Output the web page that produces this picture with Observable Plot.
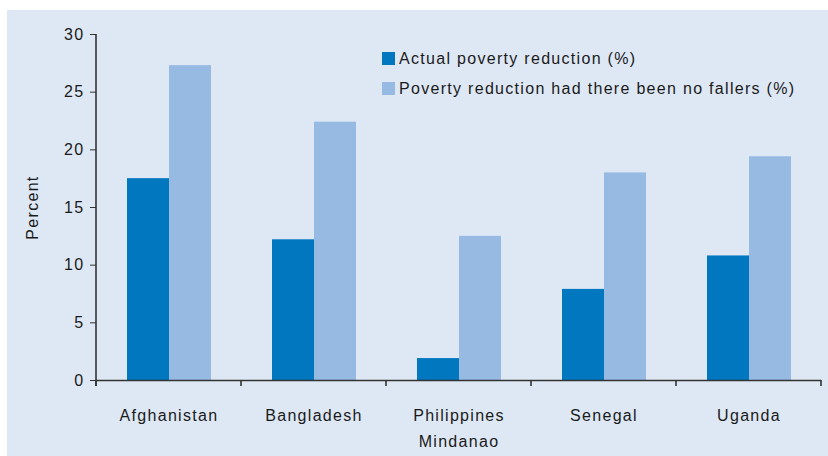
<!DOCTYPE html>
<html>
<head>
<meta charset="utf-8">
<script src="https://cdn.jsdelivr.net/npm/d3@7"></script>
<script src="https://cdn.jsdelivr.net/npm/@observablehq/plot@0.6"></script>
<style>
  html, body { margin: 0; padding: 0; background: #ffffff; }
  #wrap { position: relative; width: 828px; height: 456px; overflow: hidden; background: #ffffff; }
  #panel { position: absolute; left: 7px; top: 10px; width: 821px; height: 446px; background: #dee8f5; }
  #legend { position: absolute; left: 382px; top: 50px; font-family: "Liberation Sans", Arial, sans-serif;
            font-size: 16px; letter-spacing: 1.3px; color: #1a1a1a; }
  #legend .item { display: flex; align-items: center; height: 17px; margin-bottom: 13px; }
  #legend .sw { width: 13px; height: 13px; margin-right: 4px; flex: none; }
</style>
</head>
<body>
<div id="wrap">
  <div id="panel"></div>
  <div id="legend"></div>
</div>
<script>
// Poverty reduction by country, with and without households that fell into poverty
const countries = ["Afghanistan", "Bangladesh", "Philippines\nMindanao", "Senegal", "Uganda"];
const actualReduction = [17.5, 12.2, 1.9, 7.9, 10.8];
const noFallersReduction = [27.3, 22.4, 12.5, 18.0, 19.4];
const seriesNames = ["Actual poverty reduction (%)", "Poverty reduction had there been no fallers (%)"];
const seriesColors = ["#0077bf", "#97bae3"];
const yTicks = [0, 5, 10, 15, 20, 25, 30];

const rows = countries.flatMap((c, i) => [
  {country: c, series: seriesNames[0], value: actualReduction[i]},
  {country: c, series: seriesNames[1], value: noFallersReduction[i]}
]);

const axisColor = "#333333";
const textColor = "#1a1a1a";

const plot = Plot.plot({
  width: 821,
  height: 446,
  marginLeft: 88,
  marginRight: 7,
  marginTop: 24,
  marginBottom: 76,
  style: {
    background: "transparent",
    fontFamily: "'Liberation Sans', Arial, sans-serif",
    fontSize: "16px",
    letterSpacing: "1.3px",
    color: textColor
  },
  fx: {domain: countries, padding: 0, axis: null, label: null},
  x: {domain: seriesNames, paddingInner: 0, paddingOuter: 0.7, axis: null},
  y: {domain: [0, 30], ticks: yTicks, axis: null},
  color: {domain: seriesNames, range: seriesColors},
  marks: [
    Plot.barY(rows, {fx: "country", x: "series", y: "value", fill: "series"}),
    Plot.ruleY([0], {stroke: axisColor, strokeWidth: 1.6}),
    Plot.axisFx({anchor: "bottom", tickSize: 0, tickPadding: 22, label: null, lineHeight: 1.63, fill: textColor}),
    Plot.axisY({ticks: yTicks, tickSize: 6, tickPadding: 6, stroke: axisColor, fill: textColor,
                label: "Percent", labelAnchor: "center", labelArrow: false, labelOffset: 70})
  ]
});

document.getElementById("panel").appendChild(plot);

const svg = d3.select(plot.tagName.toLowerCase() === "svg" ? plot : plot.querySelector("svg"));

// Keep the axis label as plain text without a direction arrow
svg.selectAll("text").each(function() {
  const t = d3.select(this);
  if (this.childElementCount === 0 && /Percent/.test(t.text())) t.text("Percent");
});

// Axis line on the left and the group boundary ticks along the bottom
const fx = plot.scale("fx");
const y = plot.scale("y");
const x0 = fx.apply(countries[0]);
const bw = fx.bandwidth;
const y0 = y.apply(0);
const yTop = y.apply(yTicks[yTicks.length - 1]);
const extra = svg.append("g").attr("stroke", axisColor).attr("stroke-width", 1.6);
extra.append("line").attr("x1", x0).attr("x2", x0).attr("y1", yTop).attr("y2", y0 + 6);
const bounds = countries.map(c => fx.apply(c)).concat([fx.apply(countries[countries.length - 1]) + bw]);
bounds.forEach(b => extra.append("line").attr("x1", b).attr("x2", b).attr("y1", y0).attr("y2", y0 + 6));

// Legend built from the same series and colours
const legend = d3.select("#legend");
seriesNames.forEach((name, i) => {
  const item = legend.append("div").attr("class", "item");
  item.append("div").attr("class", "sw").style("background", seriesColors[i]);
  item.append("span").text(name);
});
</script>
</body>
</html>
